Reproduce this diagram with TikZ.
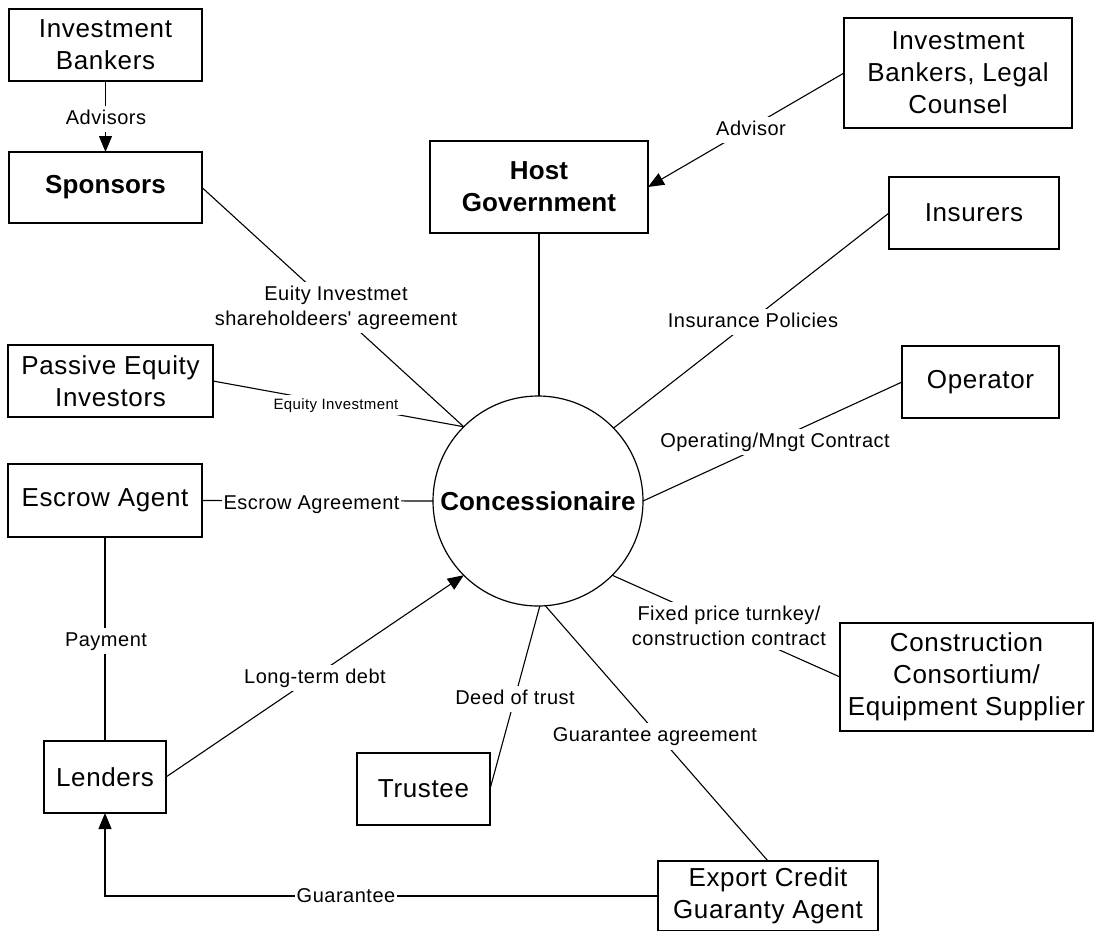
\documentclass[tikz,border=0pt]{standalone}
\usepackage{fontspec}
\setmainfont{Liberation Sans}[LetterSpace=2.5,BoldFeatures={LetterSpace=0.5}]
\usetikzlibrary{arrows.meta}
\begin{document}
\begin{tikzpicture}[x=1pt,y=-1pt,
  box/.style={draw, line width=1.2pt, inner sep=0pt, outer sep=0pt, align=center,
    font=\fontsize{26pt}{32pt}\selectfont},
  hub/.style={draw, circle, line width=1.2pt, minimum size=210pt, inner sep=0pt, outer sep=0pt,
    font=\fontsize{26pt}{32pt}\selectfont\bfseries},
  link/.style={line width=1.1pt},
  arrowlink/.style={link, -{Triangle[length=16pt,width=13pt]}},
  tag/.style={fill=white, inner sep=4pt, text height=14.5pt, text depth=4pt,
    font=\fontsize{20pt}{25pt}\selectfont},
  tagtwo/.style={fill=white, inner sep=4pt, align=center,
    font=\fontsize{20pt}{25pt}\selectfont},
  tagsmall/.style={fill=white, inner sep=3pt, text height=11pt, text depth=3pt,
    font=\fontsize{15pt}{18pt}\selectfont},
  tight/.style={inner xsep=1.5pt}]
\useasboundingbox (0,0) rectangle (1094,930);

% parties
\node[box, minimum width=193pt, minimum height=72pt] (ib) at (105.5,45) {Investment\\Bankers};
\node[box, minimum width=193pt, minimum height=71pt, font=\fontsize{26pt}{32pt}\selectfont\bfseries] (spon) at (105.5,187.5) {Sponsors};
\node[box, minimum width=218pt, minimum height=92pt, font=\fontsize{26pt}{32pt}\selectfont\bfseries] (host) at (539,187) {Host\\Government};
\node[box, minimum width=228pt, minimum height=110pt] (ib2) at (958,73) {Investment\\Bankers, Legal\\Counsel};
\node[box, minimum width=170pt, minimum height=72pt] (ins) at (974,213) {Insurers};
\node[box, minimum width=205pt, minimum height=72pt] (pass) at (110.5,381) {Passive Equity\\Investors};
\node[box, minimum width=157pt, minimum height=72pt] (op) at (980.5,382) {Operator};
\node[box, minimum width=194pt, minimum height=73pt] (esc) at (105,500.5) {Escrow Agent};
\node[box, minimum width=253pt, minimum height=108pt] (cons) at (966.5,677) {Construction\\Consortium/\\Equipment Supplier};
\node[box, minimum width=122pt, minimum height=72pt] (lend) at (105,777) {Lenders};
\node[box, minimum width=133pt, minimum height=72pt] (trust) at (423.5,789) {Trustee};
\node[box, minimum width=220pt, minimum height=70pt] (exp) at (768,896) {Export Credit\\Guaranty Agent};

% project company
\node[hub] (conc) at (538,501) {Concessionaire};

% relationships
\draw[arrowlink] (ib.south) -- (spon.north);
\draw[arrowlink] (ib2.west) -- (host.east);
\draw[link] (host.south) -- (host.south |- conc.north);
\draw[link] (spon.east) -- (conc.135);
\draw[link] (pass.east) -- (conc.135);
\draw[link] (ins.west) -- (conc.44);
\draw[link] (op.west) -- (conc.0);
\draw[link] (esc.east) -- (conc.180);
\draw[link] (cons.west) -- (conc.-45);
\draw[arrowlink] (lend.east) -- (conc.225);
\draw[link] (trust.east) -- (conc.-89);
\draw[link] (exp.north) -- (conc.-86);
\draw[link] (esc.south) -- (lend.north);
\draw[arrowlink] (exp.west) -| (lend.south);

% relationship labels
\node[tag] (tAdvisors) at (106,119) {Advisors};
\node[tag] (tAdvisor) at (751,130) {Advisor};
\node[tagtwo] (tEquity) at (336,307.5) {Euity Investmet\\shareholdeers\textquotesingle{} agreement};
\node[tagsmall] (tPassive) at (336,405) {Equity Investment};
\node[tag] (tIns) at (753,322) {Insurance Policies};
\node[tag] (tOp) at (775,442) {Operating/Mngt Contract};
\node[tag, tight] (tEsc) at (311.5,504) {Escrow Agreement};
\node[tagtwo] (tCons) at (729,626) {Fixed price turnkey/\\construction contract};
\node[tag] (tPay) at (106,641) {Payment};
\node[tag] (tDebt) at (315,678) {Long-term debt};
\node[tag] (tDeed) at (515,699) {Deed of trust};
\node[tag] (tGuarAgr) at (655,736.5) {Guarantee agreement};
\node[tag, tight] (tGuar) at (346,897.5) {Guarantee};
\end{tikzpicture}
\end{document}
